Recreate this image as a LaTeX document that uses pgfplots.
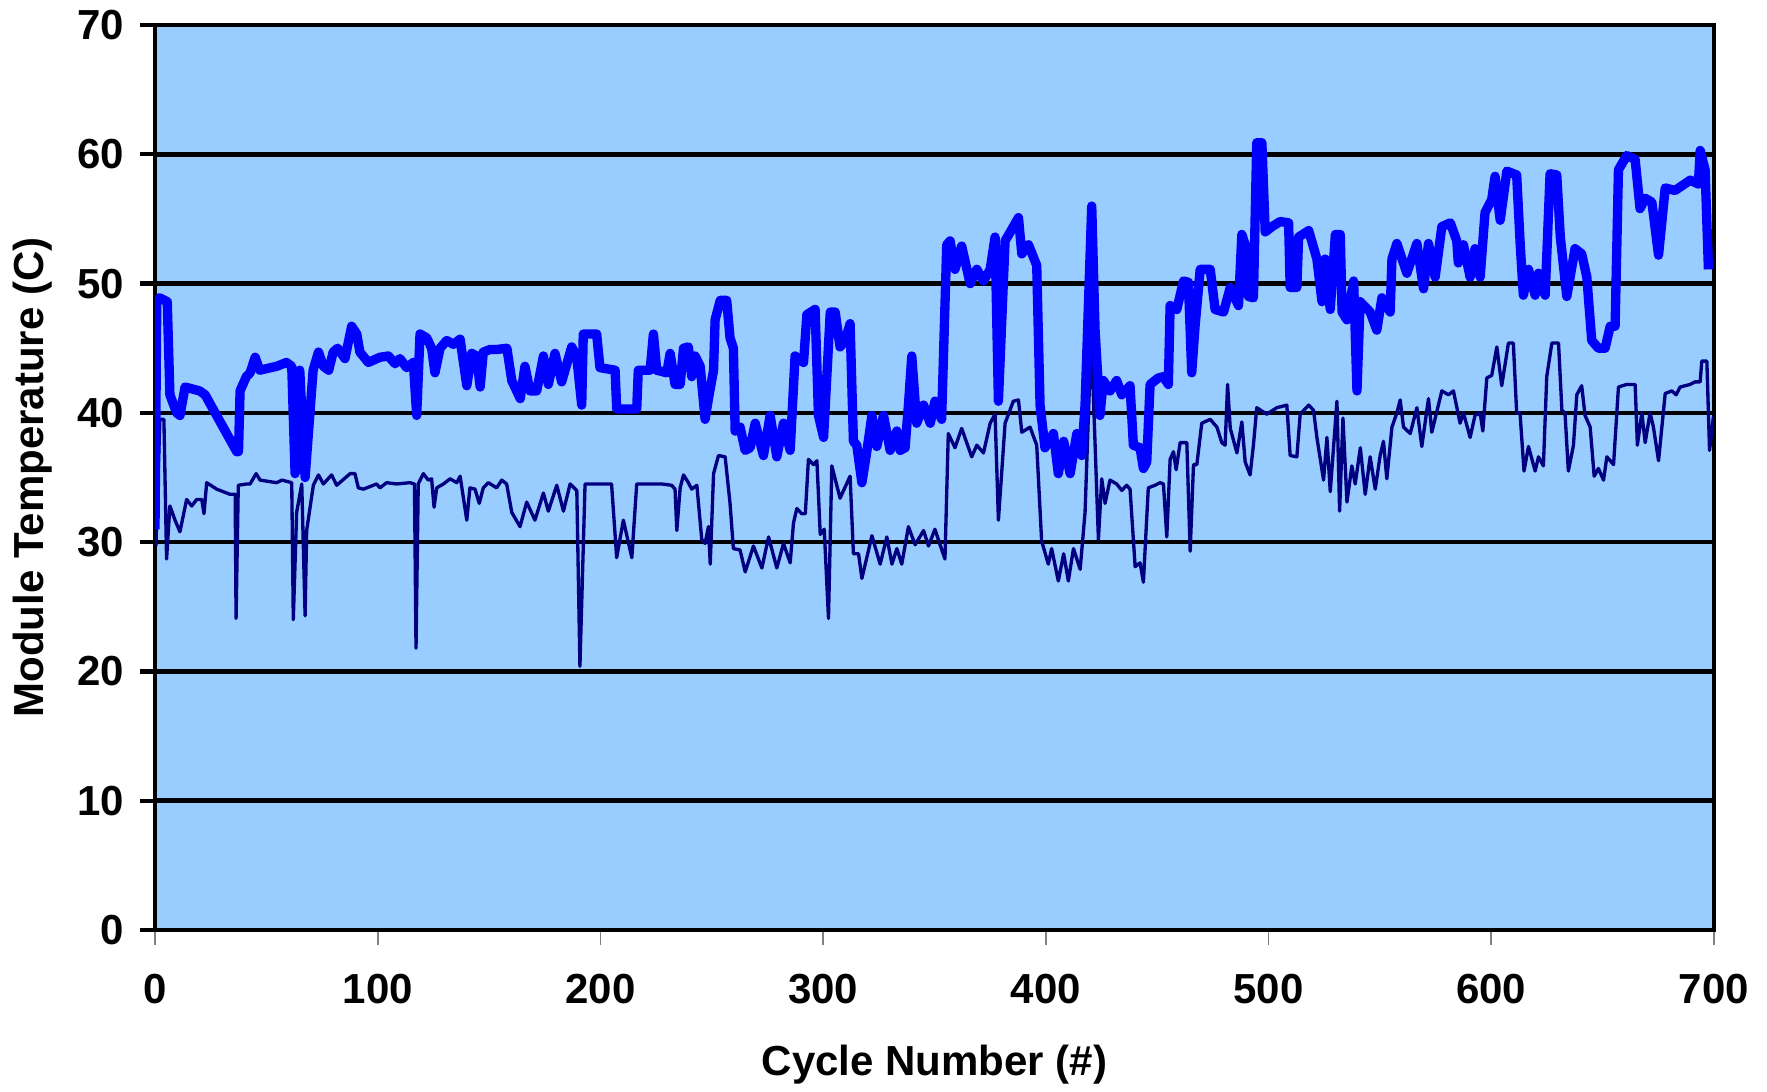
\documentclass[border=0pt]{standalone}
\usepackage{fontspec}
\setmainfont{Liberation Sans}
\usepackage{pgfplots}
\pgfplotsset{compat=1.18}
\definecolor{bgblue}{HTML}{99CCFF}
\definecolor{hiblue}{HTML}{0000FF}
\definecolor{lonavy}{HTML}{000080}
\begin{document}
\begin{tikzpicture}
\useasboundingbox (-46.5pt,-48.3pt) rectangle (483.6pt,279pt);
\begin{axis}[
  at={(0,0)}, anchor=south west,
  scale only axis, width=467.7pt, height=271.5pt,
  xmin=0, xmax=700, ymin=0, ymax=70,
  xtick={0,100,...,700}, ytick={0,10,...,70},
  xtick pos=lower, ytick pos=left,
  tick align=outside, major tick length=4.5pt,
  xtick style={gray, line width=0.5pt},
  ytick style={black, line width=1.3pt},
  axis background/.style={fill=bgblue},
  ymajorgrids, grid style={black, line width=1.4pt},
  axis line style={black, line width=1.3pt},
  /pgf/number format/assume math mode=true,
  tick label style={font=\fontsize{12.6}{15}\selectfont\bfseries},
  xticklabel style={yshift=-5.3pt},
  yticklabel style={xshift=-1.2pt},
  xlabel={Cycle Number (\#)},
  ylabel={Module Temperature (C)},
  every axis x label/.style={at={(axis description cs:0.5,-0.1492)}, anchor=center, font=\fontsize{12.6}{15}\selectfont\bfseries},
  every axis y label/.style={at={(axis description cs:-0.0785,0.5)}, anchor=center, rotate=90, font=\fontsize{12.6}{15}\selectfont\bfseries},
  clip=true,
]
\addplot[lonavy, line width=1.0pt, line join=round] coordinates {
(0.4,29.7)(2.2,39.5)(4,39.5)(5.2,28.7)(6.7,32.8)(9,31.7)(11.2,30.8)(14.2,33.3)(16.5,32.8)(18.7,33.3)
(21,33.3)(22,32.2)(23.2,34.6)(27.7,34.1)(33.7,33.7)(36,33.7)(36.4,24.1)(37.4,34.4)(41.2,34.5)(42.7,34.5)
(45.4,35.3)(47.2,34.8)(54.6,34.6)(57,34.8)(61.4,34.6)(62.1,24.0)(63.6,32.3)(65.9,34.5)(67.4,24.3)(68.1,30.9)
(71.1,34.4)(73.4,35.2)(75.6,34.5)(79.3,35.2)(81.6,34.4)(87.6,35.3)(89.8,35.3)(91.3,34.2)(93.6,34.1)(99.5,34.5)
(101,34.2)(104,34.6)(108.5,34.5)(114.5,34.6)(116.5,34.5)(117.2,21.8)(118.2,34.5)(120.5,35.3)(122.7,34.8)(124.2,34.9)
(125.3,32.7)(126.5,34.2)(129.5,34.5)(132.5,34.9)(135.5,34.6)(137,35.1)(140,31.7)(141.4,34.2)(143.7,34.1)(145.6,33.0)
(147.4,34.2)(149.7,34.6)(153.4,34.2)(155.7,34.8)(157.9,34.5)(160.2,32.3)(163.9,31.2)(166.9,33.1)(170.6,31.7)(174.4,33.8)
(176.6,32.4)(180.4,34.4)(183.4,32.4)(186.4,34.5)(189.4,34.0)(190.8,20.4)(193.1,34.5)(205,34.5)(207.3,28.8)(210.3,31.7)
(214.1,28.8)(216.3,34.5)(227.5,34.5)(232,34.4)(233.5,34.1)(234.3,30.9)(235.8,34.2)(237.3,35.2)(239.5,34.6)(241,34.1)
(243.3,34.4)(245.5,30.2)(247,29.9)(248.5,31.2)(249.3,28.3)(250.8,35.3)(253,36.7)(256,36.6)(258.2,33.0)(259.7,29.5)
(262.7,29.4)(265,27.7)(268.7,29.7)(272.5,28.0)(275.5,30.4)(279.2,28.0)(282.2,29.9)(285.2,28.4)(286.7,31.5)(288.2,32.6)
(290.4,32.2)(292,32.2)(293.4,36.4)(295.7,36.0)(297.2,36.3)(298.7,30.6)(300.5,31.0)(302.4,24.1)(303.9,35.9)(307.6,33.4)
(312.1,35.1)(313.6,29.1)(315.9,29.1)(317.4,27.2)(319.6,28.8)(321.9,30.5)(325.6,28.3)(328.6,30.4)(330.9,28.3)(333.1,29.5)
(335.3,28.3)(338.3,31.2)(341.3,29.8)(345.1,30.9)(347.3,29.7)(350.2,31.0)(352.5,29.8)(354.7,28.7)(356.2,38.4)(359.2,37.3)
(362.2,38.8)(366.7,36.6)(369,37.5)(372,36.9)(375,39.2)(377.2,39.9)(378.7,31.7)(381.7,39.2)(385.4,40.9)(387.7,41.0)
(389.2,38.5)(392.9,38.9)(395.9,37.5)(398.1,30.1)(401.1,28.3)(402.6,29.5)(405.6,27.0)(408,29.1)(410.1,27.0)(412.4,29.5)
(415.4,27.9)(417.6,32.3)(419.1,39.8)(420.4,46.0)(423.6,30.2)(425.1,34.9)(426.6,33.0)(428.8,34.8)(431.8,34.5)(434.1,34.0)
(436.3,34.4)(437.8,34.1)(440.1,28.1)(442.3,28.4)(443.8,26.9)(446,34.2)(449,34.4)(451.3,34.6)(452.8,34.5)(454.3,30.4)
(455.8,36.4)(457.3,37.0)(458.5,35.6)(460.3,37.7)(463.3,37.7)(464.8,29.3)(466.3,36.0)(467.8,36.0)(470,39.2)(473.8,39.5)
(476.8,38.9)(479,37.7)(480.5,37.5)(481.6,42.2)(482.8,38.8)(485.8,36.9)(488,39.3)(489.5,36.2)(491.7,35.2)(493.2,37.5)
(494.7,40.4)(499.2,39.9)(503.7,40.4)(508.2,40.6)(509.7,36.7)(512.7,36.6)(514.2,39.9)(518,40.6)(520.2,40.2)(521.7,38.1)
(524.7,34.8)(526.2,38.1)(527.7,33.9)(530.7,40.9)(531.9,32.4)(533.4,39.6)(535.2,33.1)(537.4,35.9)(538.9,34.5)(541.2,37.3)
(543.4,33.7)(545.6,36.6)(547.9,34.1)(550.1,36.7)(551.6,37.8)(553.1,34.9)(555.4,38.9)(557.6,40.0)(559.1,41.0)(560.6,38.9)
(563.6,38.4)(566.6,40.4)(568.8,37.4)(571.8,41.1)(573.3,38.5)(577.8,41.7)(580.8,41.4)(583,41.7)(586,39.2)(587.5,40.0)
(590.5,38.1)(592.7,39.8)(595,40.0)(596.2,38.6)(598,42.7)(600.2,42.9)(602.5,45.1)(604.7,42.1)(607.7,45.4)(609.9,45.4)
(611.4,40.0)(612.9,40.0)(614.7,35.5)(616.7,37.4)(619.7,35.5)(621.2,36.6)(623.4,35.9)(624.9,42.8)(627.2,45.4)(630.2,45.4)
(631.7,40.2)(633.1,40.0)(634.6,35.5)(636.9,37.5)(638.4,41.4)(640.6,42.1)(642.1,39.8)(644.4,38.9)(646.2,35.1)(648.1,35.7)
(650.4,34.8)(651.9,36.6)(654.9,36.0)(657.1,42.0)(660.8,42.2)(664.6,42.2)(665.6,37.5)(667.6,40.0)(669.1,37.7)(671.3,40.0)
(672.8,38.9)(675.1,36.3)(678.1,41.5)(681.1,41.7)(683,41.4)(684.8,42.0)(689.3,42.2)(691.5,42.4)(693.8,42.4)(694.5,44.0)
(696.8,44.0)(698,37.1)(699.8,39.8)
};
\addplot[hiblue, line width=2.8pt, line join=round] coordinates {
(0,31.0)(0.8,48.6)(2,48.9)(5.5,48.6)(6.7,41.4)(9.7,40.0)(11.2,39.8)(13.5,42.0)(20,41.7)(22.5,41.4)
(36.7,37.0)(37.5,37.0)(38.2,41.7)(41,42.8)(42.7,43.1)(45,44.3)(47,43.3)(54.6,43.6)(59,43.9)(61.4,43.6)
(62.9,35.3)(65,43.3)(67.4,35.0)(71,43.3)(73.4,44.7)(75.6,43.6)(78,43.3)(80,44.7)(82,45.0)(85.3,44.2)
(88.3,46.7)(90.6,46.1)(92,44.7)(95.8,43.9)(101,44.3)(104.8,44.4)(107.8,43.8)(110,44.2)(113,43.5)(116,43.9)
(117.5,39.8)(119,46.1)(122,45.8)(124.2,45.0)(125.7,43.1)(128,45.0)(131,45.6)(134,45.3)(137,45.7)(140,42.1)
(142.2,44.6)(144.4,44.4)(146,42.0)(147.4,44.7)(150.4,44.9)(153.4,44.9)(158,45.0)(160.2,42.5)(164,41.1)(166.1,43.6)
(168.4,41.7)(171.4,41.7)(174.4,44.4)(176.6,42.2)(179.6,44.6)(182.6,42.4)(187.1,45.1)(189.3,44.4)(191.6,40.6)(192.3,46.1)
(196,46.1)(198.3,46.1)(199.8,43.5)(206.6,43.3)(207.3,40.3)(216.3,40.3)(217,43.3)(222.3,43.3)(223.8,46.1)(225.3,43.3)
(229.8,43.1)(231.3,44.6)(233.5,42.2)(235.8,42.2)(237.3,45.0)(239.5,45.1)(241,42.8)(242.5,44.4)(244.8,43.6)(247,39.5)
(248.5,41.1)(250.8,43.3)(251.5,47.2)(253.8,48.7)(256.7,48.7)(258.2,45.8)(259.7,45.0)(260.5,38.6)(262.7,38.9)(265,37.1)
(267.2,37.3)(269.5,39.2)(273.2,36.7)(276.2,39.8)(279.2,36.6)(282.2,39.2)(285.2,37.1)(287.4,44.4)(291.2,43.9)(292.7,47.6)
(296.4,48.0)(297.9,39.8)(300.2,38.1)(303.2,47.8)(305.4,47.8)(307.6,45.1)(309.9,45.6)(312.1,46.9)(313.6,37.8)(315.1,37.5)
(317.4,34.6)(319.6,37.0)(321.9,39.8)(324.1,37.4)(327.1,39.8)(330.1,37.1)(333.1,38.6)(334.6,37.1)(336.8,37.3)(338.3,40.6)
(339.8,44.4)(342,39.2)(345.1,40.6)(348.1,39.2)(350.2,40.9)(353.2,39.5)(355.5,53.0)(357,53.3)(359.2,51.1)(362.2,52.9)
(366,50.0)(369,51.1)(372,50.2)(375,51.1)(377.2,53.6)(378.7,40.9)(381.7,53.3)(385.4,54.4)(387.7,55.1)(389.2,52.3)
(392.2,53.0)(395.9,51.4)(397.4,40.6)(399.6,37.3)(403.4,38.4)(405.6,35.3)(408,37.8)(410.9,35.3)(413.9,38.4)(416.1,36.7)
(417.6,40.6)(420.6,56.0)(422.1,46.4)(424.3,39.8)(425.8,42.5)(428.8,41.7)(431.8,42.5)(434.1,41.4)(437.8,42.1)(439.3,37.5)
(442.3,37.3)(443.8,35.7)(445.3,36.2)(446.8,42.2)(450.5,42.7)(452.8,42.8)(455,42.2)(455.8,48.3)(458.8,48.0)(461.8,50.2)
(464,50.1)(465.5,43.1)(467,46.7)(469.3,51.1)(473.8,51.1)(476,48.0)(479.8,47.8)(482.8,49.7)(486.5,48.3)(488,53.8)
(489.5,53.0)(491,49.0)(493.2,48.9)(494.7,60.9)(497,60.9)(498.5,54.0)(501.5,54.4)(505.2,54.8)(509,54.7)(509.7,49.7)
(512.7,49.7)(513.5,53.6)(518,54.1)(521.7,51.9)(524,48.6)(525.4,51.9)(527.7,48.0)(530,53.8)(532.2,53.8)(533,47.8)
(535.2,47.2)(538.2,50.2)(539.7,41.7)(541.1,48.6)(545.6,47.8)(548.6,46.4)(550.9,48.9)(554.6,47.8)(555.4,51.9)(557.6,53.1)
(562.1,50.8)(566.6,53.1)(569.6,49.6)(571.8,53.1)(574.8,50.5)(577.8,54.4)(581.6,54.7)(584.5,53.3)(585.2,51.6)(587.5,53.0)
(590.5,50.5)(592.7,52.7)(595,50.5)(597.2,55.5)(600.2,56.5)(601.7,58.3)(604,54.9)(607,58.7)(611.4,58.4)(613,53.0)
(614.4,49.1)(616.7,51.1)(619.7,49.1)(621.2,50.8)(624.2,49.1)(626.4,58.5)(629.4,58.4)(631,53.6)(633.9,49.0)(637.6,52.7)
(640.6,52.3)(642.9,50.5)(645.1,45.6)(648.1,45.0)(651.1,45.0)(653.4,46.7)(655.6,46.7)(657.1,58.8)(660.8,59.9)(664.6,59.6)
(666.8,55.8)(669.1,56.6)(672.1,56.3)(675.1,52.2)(678.1,57.4)(682.5,57.2)(689.3,58.0)(693,57.7)(693.8,60.3)(696,58.8)
(697.5,51.1)
};
\end{axis}
\end{tikzpicture}
\end{document}
